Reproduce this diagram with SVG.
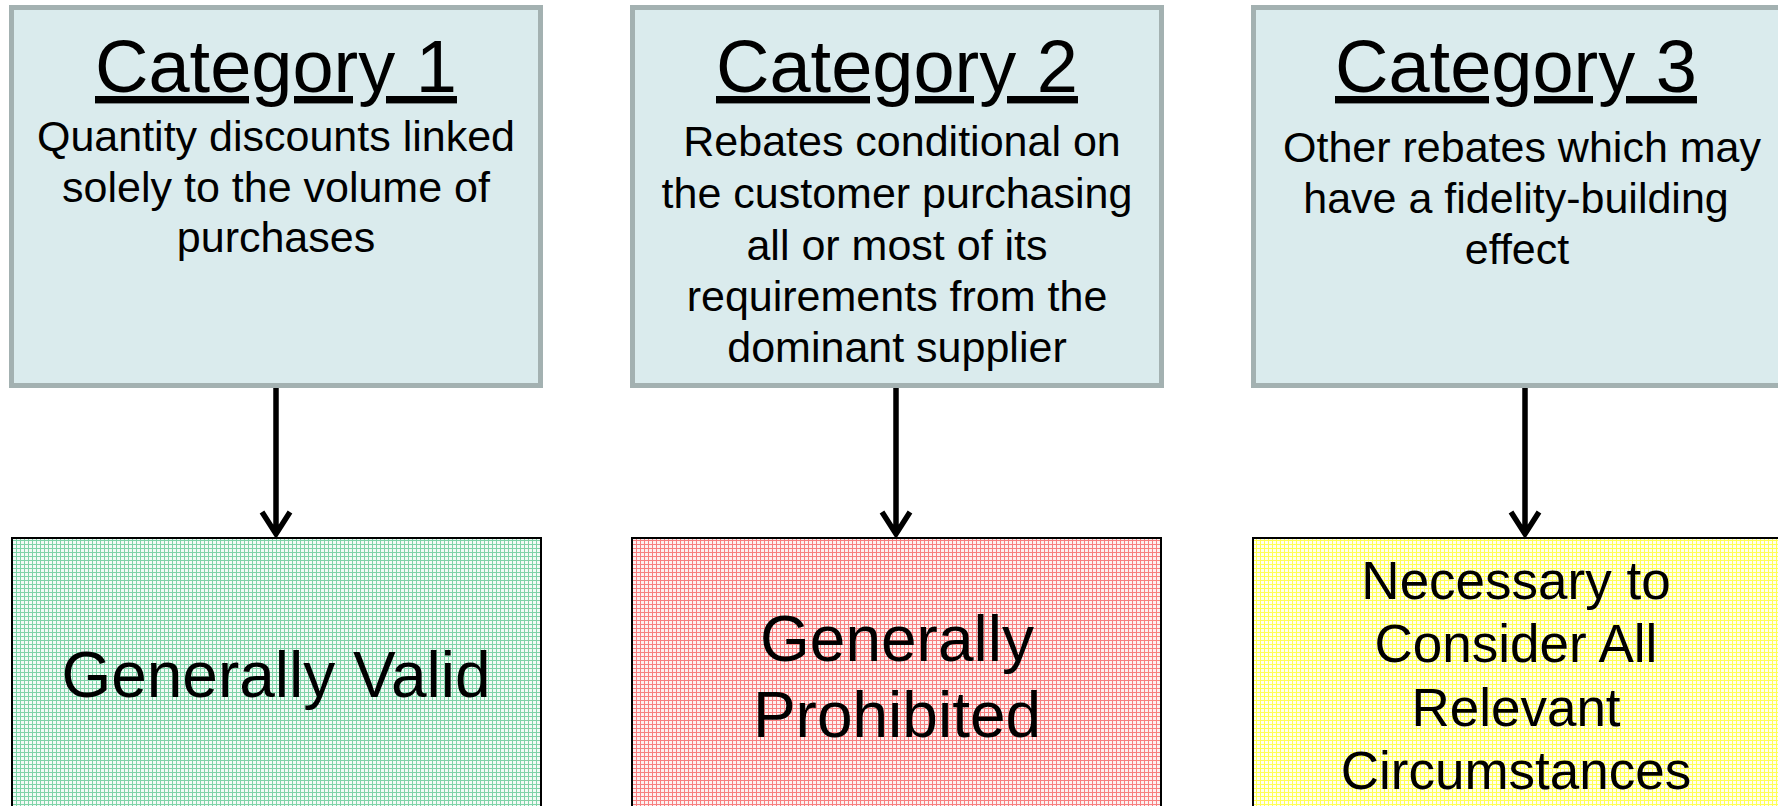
<svg xmlns="http://www.w3.org/2000/svg" width="1778" height="806" viewBox="0 0 1778 806">
<style>
.cat{fill:#daebed;stroke:#a3b1b1;stroke-width:5}
.res{stroke:#000;stroke-width:2}
.t{font-family:"Liberation Sans",Arial,sans-serif;fill:#000;text-anchor:middle}
.title{font-size:74px;text-decoration:underline}
.body{font-size:43px}
.big{font-size:64px}
.mid{font-size:53px}
.conn{stroke:#000;stroke-width:5.5;fill:none}
</style>
<defs>
<pattern id="pg" width="4" height="4" patternUnits="userSpaceOnUse">
<rect width="4" height="4" fill="#f2fbf6"/>
<rect x="0" y="0" width="1" height="4" fill="#7fd3a8"/>
<rect x="0" y="0" width="4" height="1" fill="#7fd3a8"/>
</pattern>
<pattern id="pr" width="4" height="4" patternUnits="userSpaceOnUse">
<rect width="4" height="4" fill="#fdf0f0"/>
<rect x="0" y="0" width="1" height="4" fill="#f77f7f"/>
<rect x="0" y="0" width="4" height="1" fill="#f77f7f"/>
</pattern>
<pattern id="py" width="4" height="4" patternUnits="userSpaceOnUse">
<rect width="4" height="4" fill="#fffff0"/>
<rect x="0" y="0" width="1" height="4" fill="#ffff55"/>
<rect x="0" y="0" width="4" height="1" fill="#ffff55"/>
</pattern>
</defs>
<rect width="1778" height="806" fill="#fff"/>
<g id="cat1">
<rect class="cat" x="11.5" y="7.5" width="529" height="378"/>
<text class="t title" x="276" y="92">Category 1</text>
<text class="t body" x="276" y="151">Quantity discounts linked</text>
<text class="t body" x="276" y="202">solely to the volume of</text>
<text class="t body" x="276" y="252">purchases</text>
</g>
<g id="cat2">
<rect class="cat" x="632.5" y="7.5" width="529" height="378"/>
<text class="t title" x="897" y="92">Category 2</text>
<text class="t body" x="902" y="156">Rebates conditional on</text>
<text class="t body" x="897" y="208">the customer purchasing</text>
<text class="t body" x="897" y="260">all or most of its</text>
<text class="t body" x="897" y="311">requirements from the</text>
<text class="t body" x="897" y="362">dominant supplier</text>
</g>
<g id="cat3">
<rect class="cat" x="1253.5" y="7.5" width="529" height="378"/>
<text class="t title" x="1516" y="92">Category 3</text>
<text class="t body" x="1522" y="162">Other rebates which may</text>
<text class="t body" x="1516" y="213">have a fidelity-building</text>
<text class="t body" x="1517" y="264">effect</text>
</g>
<g id="res1">
<rect class="res" x="12" y="538" width="529" height="290" fill="url(#pg)"/>
<text class="t big" x="276" y="697">Generally Valid</text>
</g>
<g id="res2">
<rect class="res" x="632" y="538" width="529" height="290" fill="url(#pr)"/>
<text class="t big" x="897" y="661">Generally</text>
<text class="t big" x="897" y="737">Prohibited</text>
</g>
<g id="res3">
<rect class="res" x="1253" y="538" width="529" height="290" fill="url(#py)"/>
<text class="t mid" x="1516" y="599">Necessary to</text>
<text class="t mid" x="1516" y="662">Consider All</text>
<text class="t mid" x="1516" y="726">Relevant</text>
<text class="t mid" x="1516" y="789">Circumstances</text>
</g>
<g id="connectors">
<path class="conn" d="M276 388 V534 M262 512 L276 534 L290 512"/>
<path class="conn" d="M896 388 V534 M882 512 L896 534 L910 512"/>
<path class="conn" d="M1525 388 V534 M1511 512 L1525 534 L1539 512"/>
</g>
</svg>
